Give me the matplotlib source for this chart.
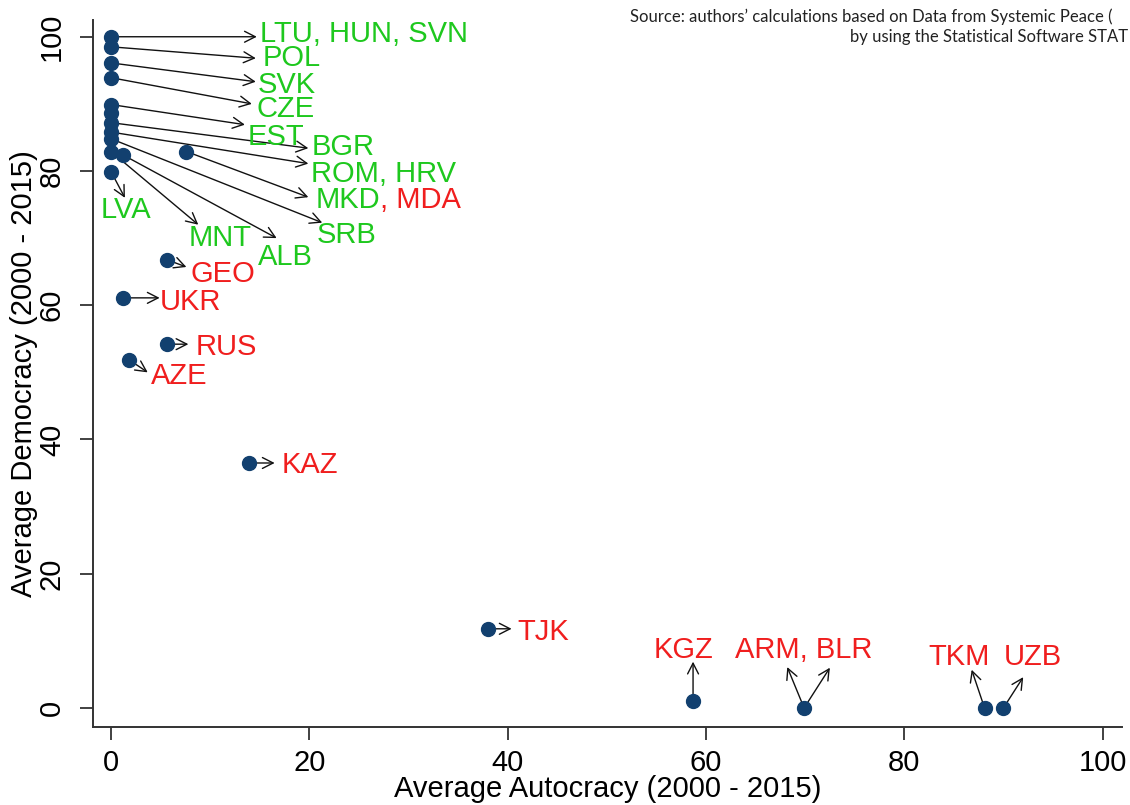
"""Average democracy vs. average autocracy (2000-2015), post-communist countries."""

import matplotlib
matplotlib.use("Agg")
import matplotlib.pyplot as plt

# points (autocracy, democracy)
pt_x = [0, 0, 0, 0, 0, 0, 0, 0, 0, 0, 1.2, 7.6, 0,
        5.6, 1.2, 5.6, 1.8, 13.9, 38.0, 58.7, 69.9, 88.1, 90.0]
pt_y = [100, 98.5, 96.1, 93.9, 89.9, 88.7, 87.2, 85.8, 84.8, 82.9, 82.4, 82.9, 79.9,
        66.8, 61.1, 54.2, 51.9, 36.5, 11.8, 1.0, 0, 0, 0]

# arrows: tail at the point, head next to the label
arrow_from = [(0, 100), (0, 98.5), (0, 96.1), (0, 93.9), (0, 89.9), (0, 87.2),
              (0, 85.8), (7.6, 82.9), (0, 84.8), (0, 82.9), (1.2, 82.4), (0, 79.9),
              (5.6, 66.8), (1.2, 61.1), (5.6, 54.2), (1.8, 51.9), (13.9, 36.5),
              (38.0, 11.8), (58.7, 1.0), (69.9, 0), (69.9, 0), (88.1, 0), (90.0, 0)]
arrow_to = [(14.7, 100), (14.6, 96.8), (14.6, 93.3), (14.2, 90.0), (13.5, 86.9), (19.9, 83.4),
            (19.9, 81.1), (19.9, 76.1), (21.3, 72.3), (8.8, 72.0), (16.7, 70.0), (1.4, 76.0),
            (7.6, 65.7), (4.9, 61.1), (7.8, 54.2), (3.7, 50.0), (16.5, 36.5),
            (40.4, 11.8), (58.7, 6.9), (68.2, 6.1), (72.5, 6.0), (86.8, 5.7), (92.0, 4.6)]

# labels (text, x, baseline y, group)
labels = ["LTU, HUN, SVN", "POL", "SVK", "CZE", "EST", "BGR", "ROM, HRV", "MKD", "SRB",
          "LVA", "MNT", "ALB", "GEO", "UKR", "RUS", "AZE", "KAZ", "TJK", "KGZ",
          "ARM, BLR", "TKM", "UZB"]
label_x = [15.0, 15.3, 14.8, 14.7, 13.8, 20.2, 20.2, 20.6, 20.7, -1.1, 7.8, 14.8,
           8.0, 4.9, 8.5, 4.0, 17.2, 41.0, 54.7, 62.9, 82.4, 90.0]
label_y = [99.2, 95.6, 91.6, 88.0, 83.9, 82.4, 78.4, 74.5, 69.2, 73.0, 68.8, 66.0,
           63.5, 59.3, 52.6, 48.3, 35.0, 10.1, 7.4, 7.4, 6.4, 6.4]
label_grp = ["dem"] * 12 + ["aut"] * 10

GREEN, RED, NAVY = "#1ec81e", "#f01e1e", "#12406f"
FONT = "Liberation Sans"

fig = plt.figure(figsize=(11.3, 8.05), dpi=100)
ax = fig.add_axes([0.0823, 0.0969, 0.9106, 0.8783])

for (x0, y0), (x1, y1) in zip(arrow_from, arrow_to):
    ax.annotate("", xy=(x1, y1), xytext=(x0, y0),
                arrowprops=dict(arrowstyle="->, head_length=0.55, head_width=0.28",
                                lw=1.0, color="#111111", shrinkA=0, shrinkB=0,
                                mutation_scale=14))
ax.plot(pt_x, pt_y, "o", ms=10, color=NAVY, mec=NAVY, zorder=3)

for txt, x, y, g in zip(labels, label_x, label_y, label_grp):
    t = ax.text(x, y, txt, color=GREEN if g == "dem" else RED, fontsize=21,
                family=FONT, ha="left", va="baseline")
    if txt == "MKD":
        ax.annotate(", MDA", xy=(1, 0), xycoords=t, ha="left", va="bottom",
                    color=RED, fontsize=21, family=FONT)

ax.set_xlim(-1.82, 101.96)
ax.set_ylim(-2.83, 102.5)
ax.set_xticks([0, 20, 40, 60, 80, 100])
ax.set_yticks([0, 20, 40, 60, 80, 100])
for s in ("top", "right"):
    ax.spines[s].set_visible(False)
for s in ("left", "bottom"):
    ax.spines[s].set_linewidth(1.4)
    ax.spines[s].set_color("#333333")
ax.tick_params(length=9.5, width=1.3, color="#333333", labelsize=21)
ax.tick_params(axis="x", pad=6)
ax.tick_params(axis="y", pad=10, labelrotation=90)
for lab in ax.get_xticklabels() + ax.get_yticklabels():
    lab.set_family(FONT)
for lab in ax.get_yticklabels():
    lab.set_va("center")

ax.set_xlabel("Average Autocracy (2000 - 2015)", fontsize=21, family=FONT, labelpad=-1)
ax.set_ylabel("Average Democracy (2000 - 2015)", fontsize=21, family=FONT, labelpad=0)

fig.text(630 / 1130, 1 - 17 / 805,
         "Source: authors\u2019 calculations based on Data from Systemic Peace (",
         fontsize=12, family="Lato", ha="left", va="center", color="#222222")
fig.text(1128 / 1130, 1 - 37 / 805, "by using the Statistical Software STAT",
         fontsize=12, family="Lato", ha="right", va="center", color="#222222")

fig.savefig("out.png", dpi=100)
